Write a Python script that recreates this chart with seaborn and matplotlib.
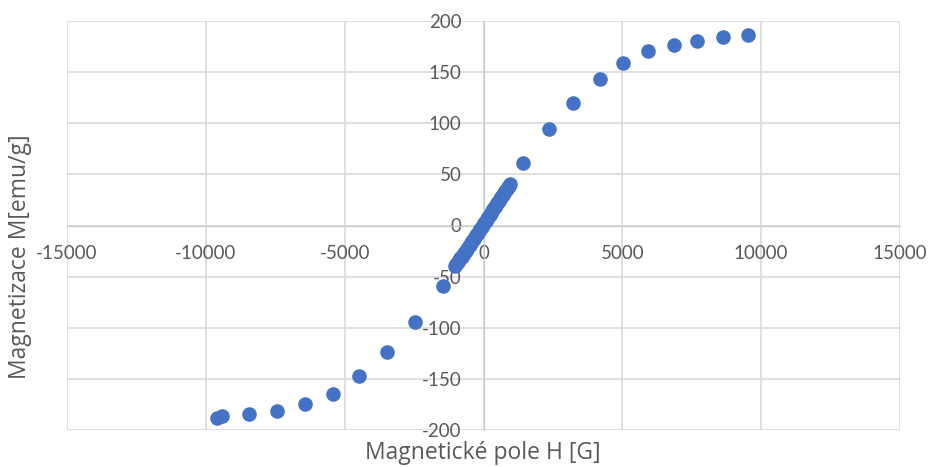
import numpy as np
import pandas as pd
import seaborn as sns
from matplotlib import pyplot as plt

# magnetic field H [G] and magnetisation M [emu/g]
h_pos = [1423, 2359, 3224, 4197, 5025, 5926, 6862, 7691, 8627, 9528]
m_pos = [61, 94.4, 120, 143, 159, 171, 177, 180.5, 184.4, 186.4]
h_neg = [-1459, -2460, -3476, -4485, -5421, -6430, -7438, -8446, -9420, -9600]
m_neg = [-59, -94, -124, -147.5, -165, -175, -181, -184.7, -186.4, -188.7]
h_mid = [-1027, -975, -930, -880, -830, -790, -740, -690, -640, -590, -540,
         -495, -450, -400, -350, -300, -255, -205, -160, -110, -60, -15, 30,
         80, 125, 170, 220, 265, 310, 360, 405, 450, 500, 545, 590, 640, 690,
         735, 780, 830, 875, 920, 955]
m_mid = [-40, -38, -36, -34, -32, -30.5, -28.5, -26.5, -24.5, -22.5, -20.5,
         -18.7, -16.9, -14.9, -12.8, -10.8, -8.9, -6.9, -5.1, -3, -1, 0.8, 2.6,
         4.7, 6.5, 8.3, 10.4, 12.2, 14.1, 16.1, 18, 19.8, 21.9, 23.7, 25.5,
         27.6, 29.6, 31.5, 33.3, 35.3, 37.2, 39, 40.5]

x_ticks = [-15000, -10000, -5000, 0, 5000, 10000, 15000]
y_ticks = [-200, -150, -100, -50, 0, 50, 100, 150, 200]

df = pd.DataFrame({'H': h_neg + h_mid + h_pos, 'M': m_neg + m_mid + m_pos})

sns.set_style('white')
plt.rcParams['font.family'] = ['Lato', 'DejaVu Sans']
plt.rcParams['axes.unicode_minus'] = False
text_col = '#595959'
grid_col = '#d9d9d9'

fig = plt.figure(figsize=(9.32, 4.67), dpi=100)
ax = fig.add_axes([67 / 932, 37 / 467, 833 / 932, 409 / 467])
sns.scatterplot(data=df, x='H', y='M', ax=ax, color='#4472C4', s=110,
                linewidth=0, zorder=3)

ax.set_xlim(-15000, 15000)
ax.set_ylim(-200, 200)
ax.set_xticks(x_ticks)
ax.set_yticks(y_ticks)
ax.grid(True, color=grid_col, linewidth=1.2, zorder=0)
ax.set_axisbelow(True)

# Excel style: axes cross at zero, labels follow them
for side in ['top', 'right']:
    ax.spines[side].set_visible(False)
ax.spines['left'].set_position(('data', 0))
ax.spines['bottom'].set_position(('data', 0))
ax.spines['left'].set_color('#c8c8c8')
ax.spines['bottom'].set_color('#c8c8c8')
ax.tick_params(axis='both', length=0, labelsize=13.5, labelcolor=text_col)
ax.tick_params(axis='y', pad=16)
ax.tick_params(axis='x', pad=14)
ax.set_xlabel('')
ax.set_ylabel('')

title_font = ['Open Sans', 'DejaVu Sans']
fig.text(483 / 932, 1 - 453 / 467, 'Magnetické pole H [G]', ha='center',
         va='center', fontsize=16.5, color=text_col, family=title_font)
fig.text(20 / 932, 1 - 257 / 467, 'Magnetizace M[emu/g]', ha='center',
         va='center', rotation=90, fontsize=16.5, color=text_col,
         family=title_font)

plt.savefig('out.png', dpi=100)
